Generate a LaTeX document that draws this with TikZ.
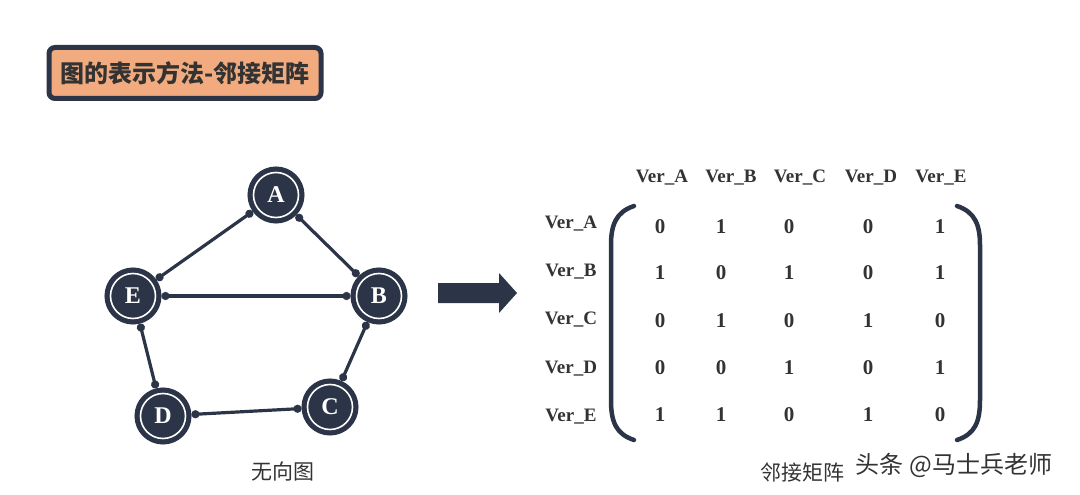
\documentclass[tikz,border=0pt]{standalone}
\usepackage{fontspec}
\setmainfont{Liberation Serif}
\newfontfamily\cjk{Noto Sans CJK SC}
\usetikzlibrary{arrows.meta}
\definecolor{navy}{HTML}{2B3547}
\definecolor{peach}{HTML}{F2AB7E}
\definecolor{txtdark}{HTML}{333333}
\tikzset{
  vert/.style={circle, fill=navy, draw=white, line width=1.6pt, minimum size=45pt, inner sep=0pt,
    outer sep=6pt, preaction={draw=navy, line width=12pt},
    text=white, font=\fontsize{24}{24}\selectfont\bfseries},
  edge/.style={navy, line width=3.2pt, {Circle[length=8pt]}-{Circle[length=8pt]}},
  hdr/.style={font=\fontsize{19}{19}\selectfont\bfseries, text=txtdark},
  val/.style={font=\fontsize{21}{21}\selectfont\bfseries, text=txtdark},
  brk/.style={navy, line width=4.5pt, line cap=round},
  captext/.style={font=\cjk\fontsize{21}{21}\selectfont, text=txtdark}
}
\begin{document}
\begin{tikzpicture}[x=1pt,y=-1pt]
\useasboundingbox (0,0) rectangle (1080,495);
% title
\node[draw=navy, line width=5pt, fill=peach, rounded corners=6pt, minimum width=272pt, minimum height=51pt,
  font=\cjk\fontsize{24}{24}\selectfont\bfseries, text=txtdark] (title) at (185,73) {图的表示方法-邻接矩阵};
% graph
\node[vert] (A) at (276,195) {A};
\node[vert] (E) at (133,296) {E};
\node[vert] (B) at (379,296) {B};
\node[vert] (D) at (163,416) {D};
\node[vert] (C) at (330,407) {C};
\draw[edge] (A) -- (E);
\draw[edge] (A) -- (B);
\draw[edge] (E) -- (B);
\draw[edge] (E) -- (D);
\draw[edge] (B) -- (C);
\draw[edge] (D) -- (C);
\node[captext] (cap1) at (283,471) {无向图};
% block arrow
\fill[navy] (438,283) -- (499,283) -- (499,273) -- (517,293) -- (499,313) -- (499,303) -- (438,303) -- cycle;
% matrix headers
\foreach \n/\x in {A/662,B/731,C/800,D/871,E/941}{
  \node[hdr] (h\n) at (\x,178) {Ver\_\n};
}
\foreach \n/\y in {A/224,B/272,C/320,D/369,E/417}{
  \node[hdr] (r\n) at (571,\y) {Ver\_\n};
}
% values
\foreach \row/\y/\vals in {1/227/{0,1,0,0,1},2/273/{1,0,1,0,1},3/321/{0,1,0,1,0},4/368/{0,0,1,0,1},5/415/{1,1,0,1,0}}{
  \foreach \v [count=\c] in \vals {
    \pgfmathsetmacro{\xx}{{660,721,789,868,940}[\c-1]}
    \node[val] (m\row\c) at (\xx,\y) {\v};
  }
}
% brackets
\draw[brk] (634,206) .. controls (616,212) and (611,225) .. (611,245) -- (611,400) .. controls (611,422) and (616,434) .. (634,440);
\draw[brk] (957,206) .. controls (975,212) and (980,225) .. (980,245) -- (980,400) .. controls (980,422) and (975,434) .. (957,440);
\node[captext] (cap2) at (802,473) {邻接矩阵};
\node[font=\cjk\fontsize{24}{24}\selectfont, text=black!80] (wm) at (954,465) {头条 @马士兵老师};
\end{tikzpicture}
\end{document}
